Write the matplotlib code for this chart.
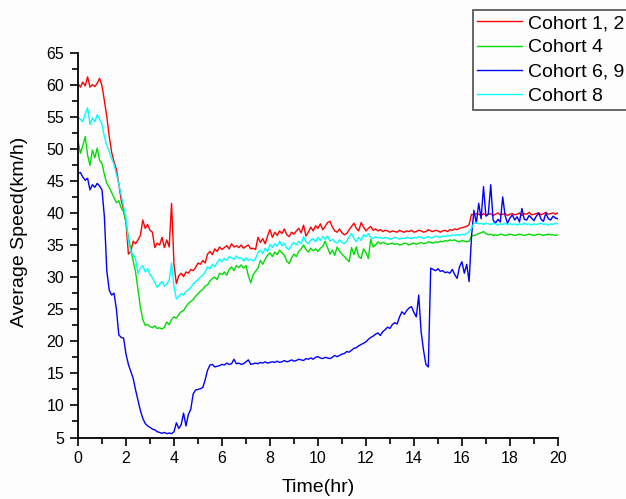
import numpy as np
import matplotlib
matplotlib.use("Agg")
import matplotlib.pyplot as plt
from matplotlib.ticker import MultipleLocator

plt.rcParams['font.family'] = ['Liberation Sans', 'DejaVu Sans']

# Time grid (hours), 0.1 h sampling
time_hr = np.round(np.arange(0, 201) * 0.1, 1)

cohort_1_2 = [
    60.2, 59.6, 60.4, 59.8, 61.2, 59.6, 60.0, 59.7, 60.2, 61.0, 59.8,
    57.5, 55.0, 52.0, 49.5, 48.0, 46.8, 44.5, 42.0, 40.5, 38.5,
    33.6, 34.0, 35.6, 35.2, 35.8, 36.5, 38.9, 37.6, 38.2, 37.3,
    37.0, 34.6, 35.3, 35.0, 36.2, 34.6, 35.8, 34.7, 41.5, 32.0,
    29.0, 30.2, 30.6, 30.1, 30.8, 30.6, 31.2, 31.0, 31.5, 32.2,
    32.0, 32.6, 32.2, 33.6, 34.0, 33.5, 34.4, 34.0, 34.7, 34.3,
    34.6, 34.9, 34.4, 35.2, 34.7, 34.9, 34.6, 35.0, 34.5, 34.8,
    35.0, 34.4, 34.5, 34.3, 36.2, 35.4, 36.0, 35.2, 36.4, 37.4,
    36.2, 37.0, 36.5, 37.2, 36.8, 37.5, 36.6, 36.3, 37.0, 36.7,
    37.2, 37.6, 36.9, 38.1, 36.4, 37.0, 37.8, 37.2, 38.0, 37.6,
    38.3, 37.4, 37.9, 38.5, 38.7, 37.8, 37.2, 37.0, 37.5, 36.9,
    36.6, 36.8, 37.4, 37.9, 38.4, 37.6, 37.2, 38.5, 37.8, 37.2,
    37.6, 37.9, 37.3, 37.5, 37.2, 37.4, 37.1, 37.3, 37.2, 37.0,
    37.2, 37.1, 37.0, 37.3, 37.1, 37.0, 37.2, 37.1, 37.3, 37.0,
    37.1, 37.3, 37.2, 37.0, 37.1, 37.4, 37.2, 37.1, 37.3, 37.2,
    37.0, 37.2, 37.3, 37.1, 37.4, 37.3, 37.5, 37.4, 37.6, 37.7,
    37.8, 37.9, 38.2, 39.8, 39.7, 39.9, 39.8, 39.6, 39.9, 39.7,
    39.8, 39.9, 39.6, 39.8, 40.0, 39.7, 39.8, 39.9, 39.6, 39.8,
    39.9, 39.7, 39.8, 40.0, 39.6, 39.9, 39.8, 40.1, 39.7, 39.8,
    39.9, 40.0, 39.7, 39.9, 40.1, 39.8, 39.9, 40.0, 39.8, 40.0,
]

cohort_4 = [
    51.3, 49.3, 50.5, 51.9, 49.0, 47.4, 49.8, 48.6, 50.1, 48.2, 47.7,
    46.0, 44.6, 44.0, 43.2, 42.4, 41.6, 41.9, 40.8, 40.2, 38.6,
    36.2, 34.4, 32.5, 30.8, 28.0, 25.3, 23.4, 22.5, 22.6, 22.3,
    22.1, 22.4, 22.0, 22.1, 21.9, 22.2, 23.0, 22.6, 23.4, 23.8,
    23.6, 24.2, 24.6, 24.8, 25.4, 25.9, 26.2, 26.5, 27.0, 27.4,
    27.8, 28.1, 28.6, 28.8, 29.4, 29.8, 30.0, 29.6, 30.6, 30.4,
    30.8, 30.3, 31.2, 31.6, 31.0, 31.8, 31.5, 31.9, 31.4, 31.8,
    30.2, 29.1, 30.4, 30.9, 31.4, 32.6, 32.0, 32.8, 33.4, 33.8,
    33.2, 33.9, 33.5, 34.2, 33.8, 33.4, 32.5, 32.1, 33.0, 33.6,
    33.2, 34.0, 34.4, 35.0, 34.3, 33.9, 34.5, 34.1, 34.4, 34.0,
    34.5, 34.8, 35.6, 34.6, 33.6, 34.2, 33.4, 34.7, 34.0, 33.6,
    33.2, 32.8, 32.4, 34.6, 33.5, 34.7, 33.2, 32.9, 34.4, 33.8,
    32.9, 35.9, 34.7, 35.0, 35.5, 35.2, 35.4, 35.3, 35.1, 35.2,
    35.3, 35.1, 35.2, 35.0, 35.1, 35.3, 35.2, 35.0, 35.2, 35.3,
    35.1, 35.3, 35.4, 35.2, 35.3, 35.5, 35.4, 35.3, 35.5, 35.4,
    35.6, 35.5, 35.7, 35.6, 35.8, 35.7, 35.8, 35.6, 35.5, 35.7,
    35.6, 35.5, 35.6, 36.4, 36.5, 36.6, 36.8, 36.9, 37.1, 36.8,
    36.6, 36.7, 36.5, 36.6, 36.5, 36.7, 36.6, 36.5, 36.6, 36.7,
    36.6, 36.5, 36.6, 36.7, 36.6, 36.5, 36.6, 36.7, 36.6, 36.5,
    36.6, 36.7, 36.6, 36.5, 36.6, 36.7, 36.6, 36.6, 36.5, 36.6,
]

cohort_6_9 = [
    46.2, 46.3, 45.6, 45.1, 45.4, 43.6, 44.4, 44.0, 44.6, 44.2, 43.6,
    39.4, 31.0, 28.0, 27.2, 27.5, 25.0, 21.0, 20.6, 20.5, 18.0,
    16.4, 15.3, 14.2, 12.4, 10.8, 9.2, 8.0, 7.2, 6.8, 6.6,
    6.3, 6.2, 5.9, 5.8, 5.65, 5.8, 5.6, 5.7, 5.6, 5.9,
    7.3, 6.4, 7.0, 8.8, 6.8, 8.6, 9.4, 11.8, 12.4, 12.5,
    12.6, 12.8, 14.0, 15.5, 16.3, 16.4, 16.0, 16.1, 16.2, 16.4,
    16.3, 16.6, 16.4, 16.5, 17.2, 16.5, 16.6, 16.4, 16.5, 16.8,
    17.1, 16.4, 16.5, 16.6, 16.5, 16.7, 16.6, 16.8, 16.6, 16.7,
    16.8, 16.7, 16.9, 16.7, 16.8, 17.0, 16.8, 16.9, 17.1, 16.9,
    17.0, 17.2, 17.1, 17.0, 17.3, 17.2, 17.4, 17.2, 17.5, 17.6,
    17.4, 17.3, 17.5, 17.4, 17.3, 17.5, 17.8, 17.6, 17.8, 18.0,
    18.1, 18.4, 18.3, 18.6, 18.9, 19.0, 19.3, 19.5, 19.7, 19.9,
    20.3, 20.6, 20.8, 21.1, 21.3, 20.9, 21.5, 21.8, 22.2, 22.0,
    22.6, 22.9, 22.7, 23.8, 24.6, 24.2, 24.8, 25.2, 25.4, 24.5,
    23.8, 27.2, 21.5, 18.6, 16.4, 16.0, 31.4, 31.2, 31.0, 31.3,
    30.9, 31.0, 30.7, 30.8, 30.6, 31.2, 30.4, 29.8, 31.6, 32.4,
    30.6, 32.0, 29.3, 36.3, 40.4, 38.4, 41.5, 39.1, 44.1, 39.5,
    39.8, 44.4, 38.9, 38.4, 39.0, 38.6, 42.5, 39.6, 38.4, 39.2,
    39.7, 38.9, 39.4, 38.6, 40.7, 39.0, 38.9, 39.6, 39.2, 38.8,
    39.5, 40.0, 39.0, 38.7, 40.0, 39.1, 38.9, 39.5, 39.2, 39.1,
]

cohort_8 = [
    55.0, 54.6, 54.2, 55.4, 56.4, 53.8, 54.8, 54.2, 55.3, 54.6, 53.8,
    51.9, 50.5, 49.6, 48.5, 47.6, 46.0, 44.5, 42.8, 41.0, 39.2,
    35.6, 34.0, 33.5, 32.8, 30.6, 31.4, 31.8, 30.8, 31.3, 30.4,
    29.9, 29.2, 28.4, 28.9, 29.3, 28.6, 28.9, 29.5, 32.2, 28.5,
    26.6, 27.0, 27.4, 27.2, 27.8, 28.0, 28.4, 28.9, 29.3, 29.6,
    30.0, 30.3, 30.8, 31.6, 31.3, 32.0, 31.6, 32.3, 32.8, 32.4,
    32.9, 32.6, 33.2, 33.0, 32.8, 33.3, 32.9, 33.0, 32.5, 33.0,
    32.6, 32.8, 32.5, 32.9, 33.8, 34.2, 33.7, 34.5, 34.0, 35.1,
    34.6, 35.2, 34.8, 35.6, 34.9, 35.3, 34.5, 34.3, 35.0, 35.4,
    35.0, 35.6, 35.2, 36.3, 35.5, 35.2, 35.8, 36.0, 35.5, 36.2,
    35.7, 36.3, 35.9, 36.4, 35.6, 35.9, 35.5, 35.3, 35.8, 35.4,
    35.2, 35.6, 36.3, 36.8, 36.0, 35.5, 36.2, 35.7, 36.6, 36.3,
    36.8, 36.2, 36.0, 36.3, 36.1, 36.2, 36.0, 36.2, 36.1, 35.9,
    36.0, 36.2, 36.1, 35.9, 36.1, 36.0, 36.2, 36.1, 36.0, 36.2,
    36.1, 36.3, 36.2, 36.0, 36.2, 36.3, 36.1, 36.2, 36.4, 36.3,
    36.2, 36.4, 36.3, 36.5, 36.4, 36.6, 36.5, 36.6, 36.5, 36.7,
    36.6, 36.8, 37.1, 37.6, 38.4, 38.5, 38.3, 38.4, 38.2, 38.4,
    38.3, 38.2, 38.4, 38.3, 38.1, 38.3, 38.2, 38.4, 38.2, 38.3,
    38.2, 38.3, 38.1, 38.3, 38.2, 38.4, 38.2, 38.3, 38.1, 38.3,
    38.2, 38.3, 38.4, 38.2, 38.3, 38.1, 38.3, 38.2, 38.4, 38.3,
]

series_labels = ["Cohort 1, 2", "Cohort 4", "Cohort 6, 9", "Cohort 8"]
series_colors = ["#ff0000", "#00dd00", "#0000ff", "#00ffff"]
series_values = [cohort_1_2, cohort_4, cohort_6_9, cohort_8]

fig = plt.figure(figsize=(6.26, 4.99), dpi=100, facecolor="#fdfdfd")
ax = fig.add_axes([0.1246, 0.1232, 0.7666, 0.7715])
ax.set_facecolor("#fdfdfd")

for vals, lab, col in zip(series_values, series_labels, series_colors):
    ax.plot(time_hr, vals, color=col, lw=1.0, label=lab)

ax.set_xlim(0, 20)
ax.set_ylim(5, 65)
ax.xaxis.set_major_locator(MultipleLocator(2))
ax.xaxis.set_minor_locator(MultipleLocator(1))
ax.yaxis.set_major_locator(MultipleLocator(5))
ax.yaxis.set_minor_locator(MultipleLocator(2.5))
ax.tick_params(which="major", direction="out", length=6, width=1.2, labelsize=11.5, pad=4)
ax.tick_params(which="minor", direction="out", length=4, width=1.2)
for s in ["top", "right"]:
    ax.spines[s].set_visible(False)
for s in ["left", "bottom"]:
    ax.spines[s].set_linewidth(1.3)

ax.set_xlabel("Time(hr)", fontsize=14, labelpad=9)
ax.set_ylabel("Average Speed(km/h)", fontsize=14)
ax.yaxis.set_label_coords(-0.105, 0.534)

leg = fig.legend(loc="upper left", bbox_to_anchor=(472.7 / 626, 1 - 10 / 499),
                 bbox_transform=fig.transFigure, borderaxespad=0, fontsize=14,
                 handlelength=2.3, handletextpad=0.3, labelspacing=0.34,
                 borderpad=0.24, fancybox=False, frameon=True)
leg.get_frame().set_edgecolor("#333333")
leg.get_frame().set_linewidth(1.3)
leg.get_frame().set_facecolor("#fdfdfd")

fig.savefig("out.png", dpi=100, facecolor=fig.get_facecolor())
